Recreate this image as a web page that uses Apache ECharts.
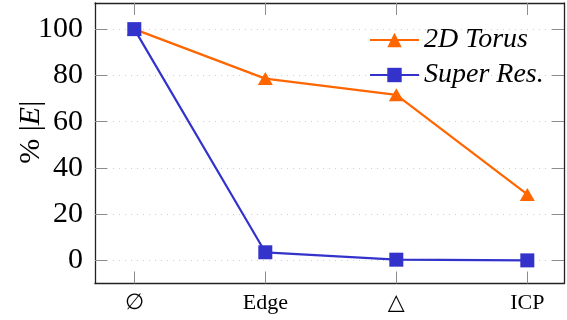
<!DOCTYPE html>
<html><head><meta charset="utf-8">
<script src="https://cdn.jsdelivr.net/npm/echarts@6/dist/echarts.min.js"></script>
<style>html,body{margin:0;padding:0;background:#fff}#c{width:567px;height:320px}</style>
</head><body><div id="c"></div>
<script>
const categories = ['∅', 'Edge', '△', 'ICP'];
const torus = [100, 78.6, 71.6, 28.5];
const superRes = [100, 3.5, 0.3, 0];
const yTicks = [0, 20, 40, 60, 80, 100];
const catIdx = categories.map((c, i) => i);

const serif = '"Liberation Serif", "DejaVu Serif", serif';
const chart = echarts.init(document.getElementById('c'), null, {renderer: 'canvas'});
const tickStyle = {show: true, inside: true, length: 12, lineStyle: {color: '#8c8c8c', width: 1}};
const lineStyle = {show: true, onZero: false, lineStyle: {color: '#222', width: 1.3}};
chart.setOption({
  animation: false,
  grid: {left: 95, right: 3, top: 3, bottom: 36.5, containLabel: false, outerBoundsMode: 'none'},
  legend: {
    orient: 'vertical', left: 364, top: 21, itemWidth: 49, itemHeight: 18, itemGap: 7,
    textStyle: {fontFamily: serif, fontStyle: 'italic', fontSize: 28, color: '#000'},
    data: ['2D Torus', 'Super Res.']
  },
  xAxis: [{
    type: 'value', min: -0.3, max: 3.28, position: 'bottom',
    axisLine: lineStyle,
    axisTick: Object.assign({customValues: catIdx}, tickStyle),
    axisLabel: {customValues: catIdx, formatter: v => categories[Math.round(v)], fontFamily: serif, fontSize: 22, color: '#000', margin: 9},
    splitLine: {show: false}
  }, {
    type: 'value', min: -0.3, max: 3.28, position: 'top',
    axisLine: lineStyle,
    axisTick: Object.assign({customValues: catIdx}, tickStyle),
    axisLabel: {show: false}, splitLine: {show: false}
  }],
  yAxis: [{
    type: 'value', min: -10, max: 111.3, position: 'left',
    name: '{a|% |}{b|E}{a||}', nameLocation: 'middle', nameGap: 49, nameRotate: 90, nameMoveOverlap: false,
    nameTextStyle: {padding: [0, 0, 0, 22], rich: {a: {fontFamily: serif, fontSize: 30, color: '#000'}, b: {fontFamily: serif, fontStyle: 'italic', fontSize: 30, color: '#000'}}},
    axisLine: lineStyle,
    axisTick: Object.assign({customValues: yTicks}, tickStyle),
    axisLabel: {customValues: yTicks, fontFamily: serif, fontSize: 30, color: '#000', margin: 12},
    splitLine: {show: true, lineStyle: {color: '#cfcfcf', type: [1, 5], width: 1}}
  }, {
    type: 'value', min: -10, max: 111.3, position: 'right',
    axisLine: lineStyle,
    axisTick: Object.assign({customValues: yTicks}, tickStyle),
    axisLabel: {show: false}, splitLine: {show: false}
  }],
  series: [{
    name: '2D Torus', type: 'line', xAxisIndex: 0, yAxisIndex: 0,
    data: torus.map((v, i) => [catIdx[i], v]),
    symbol: 'triangle', symbolSize: [15, 13],
    lineStyle: {color: '#ff6600', width: 2.2}, itemStyle: {color: '#ff6600'}
  }, {
    name: 'Super Res.', type: 'line', xAxisIndex: 0, yAxisIndex: 0,
    data: superRes.map((v, i) => [catIdx[i], v]),
    symbol: 'rect', symbolSize: 14,
    lineStyle: {color: '#3333cc', width: 2.2}, itemStyle: {color: '#3333cc'}
  }]
});
</script></body></html>
